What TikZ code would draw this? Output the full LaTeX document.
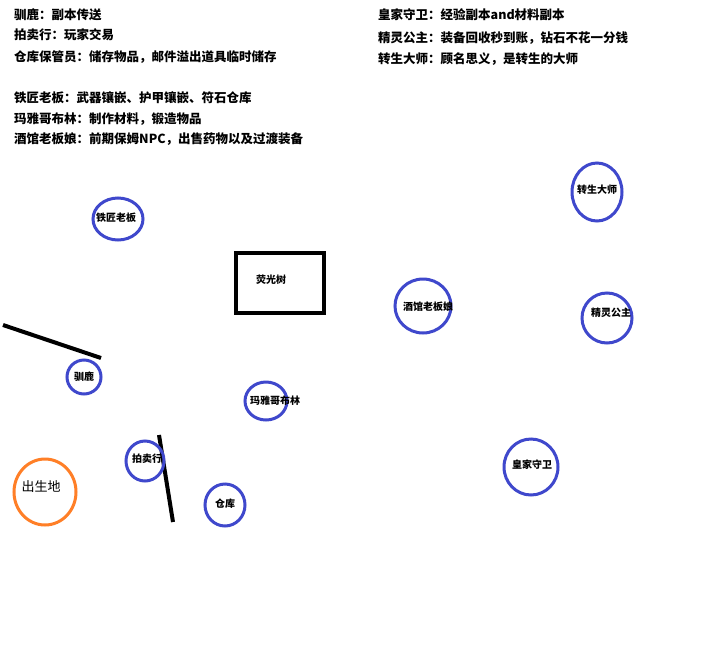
\documentclass[tikz,border=0pt]{standalone}
\usepackage{fontspec}
\setmainfont{Noto Sans CJK SC}
\usetikzlibrary{positioning}
\definecolor{npcblue}{RGB}{63,72,204}
\definecolor{spawnorange}{RGB}{255,127,39}
\tikzset{
  npc/.style={draw=npcblue, line width=3pt},
  npclbl/.style={font=\fontsize{10}{12}\selectfont\bfseries, inner sep=0pt},
  note/.style={font=\fontsize{12.5}{15}\selectfont\bfseries, anchor=west, inner sep=0pt}
}
\begin{document}
\begin{tikzpicture}[x=1pt,y=-1pt]
	\useasboundingbox[fill=white] (0,0) rectangle (720,667);
	% notes
	\node[note] (n1) at (14,15) {驯鹿：副本传送};
	\node[note] (n2) at (14,35) {拍卖行：玩家交易};
	\node[note] (n3) at (14,57) {仓库保管员：储存物品，邮件溢出道具临时储存};
	\node[note] (n4) at (14,98) {铁匠老板：武器镶嵌、护甲镶嵌、符石仓库};
	\node[note] (n5) at (14,119) {玛雅哥布林：制作材料，锻造物品};
	\node[note] (n6) at (14,139) {酒馆老板娘：前期保姆NPC，出售药物以及过渡装备};
	\node[note] (n7) at (378,15) {皇家守卫：经验副本and材料副本};
	\node[note] (n8) at (378,38) {精灵公主：装备回收秒到账，钻石不花一分钱};
	\node[note] (n9) at (378,59) {转生大师：顾名思义，是转生的大师};
	% tree
	\draw[line width=4pt] (236,253) rectangle (324,313);
	\node[npclbl] (tree) at (271,280) {荧光树};
	% walls
	\draw[line width=4pt] (3,325)--(101,358);
	\draw[line width=4pt] (159,435)--(173,522);
	% npcs
	\draw[npc] (118,219) ellipse (25 and 21);
	\node[npclbl] (tiejiang) at (116,218) {铁匠老板};
	\draw[npc] (84,377) ellipse (17 and 17);
	\node[npclbl] (xunlu) at (84,377) {驯鹿};
	\draw[npc] (266,401) ellipse (21 and 19);
	\node[npclbl] (maya) at (275,401) {玛雅哥布林};
	\draw[npc] (145,461) ellipse (19 and 20);
	\node[npclbl] (paimai) at (147,459) {拍卖行};
	\draw[npc] (225,505) ellipse (20 and 21);
	\node[npclbl] (cangku) at (225,504) {仓库};
	\draw[npc] (597,192) ellipse (25 and 29);
	\node[npclbl] (zhuansheng) at (597,190) {转生大师};
	\draw[npc] (423,306) ellipse (28 and 27);
	\node[npclbl] (jiuguan) at (428,307) {酒馆老板娘};
	\draw[npc] (607,318) ellipse (25 and 25);
	\node[npclbl] (jingling) at (611,313) {精灵公主};
	\draw[npc] (531,467) ellipse (27 and 28);
	\node[npclbl] (huangjia) at (532,465) {皇家守卫};
	% spawn
	\draw[draw=spawnorange, line width=3pt] (45,492) ellipse (31 and 33);
	\node[inner sep=0pt, font=\fontsize{13}{15}\selectfont] (spawn) at (41,487) {出生地};
\end{tikzpicture}
\end{document}
